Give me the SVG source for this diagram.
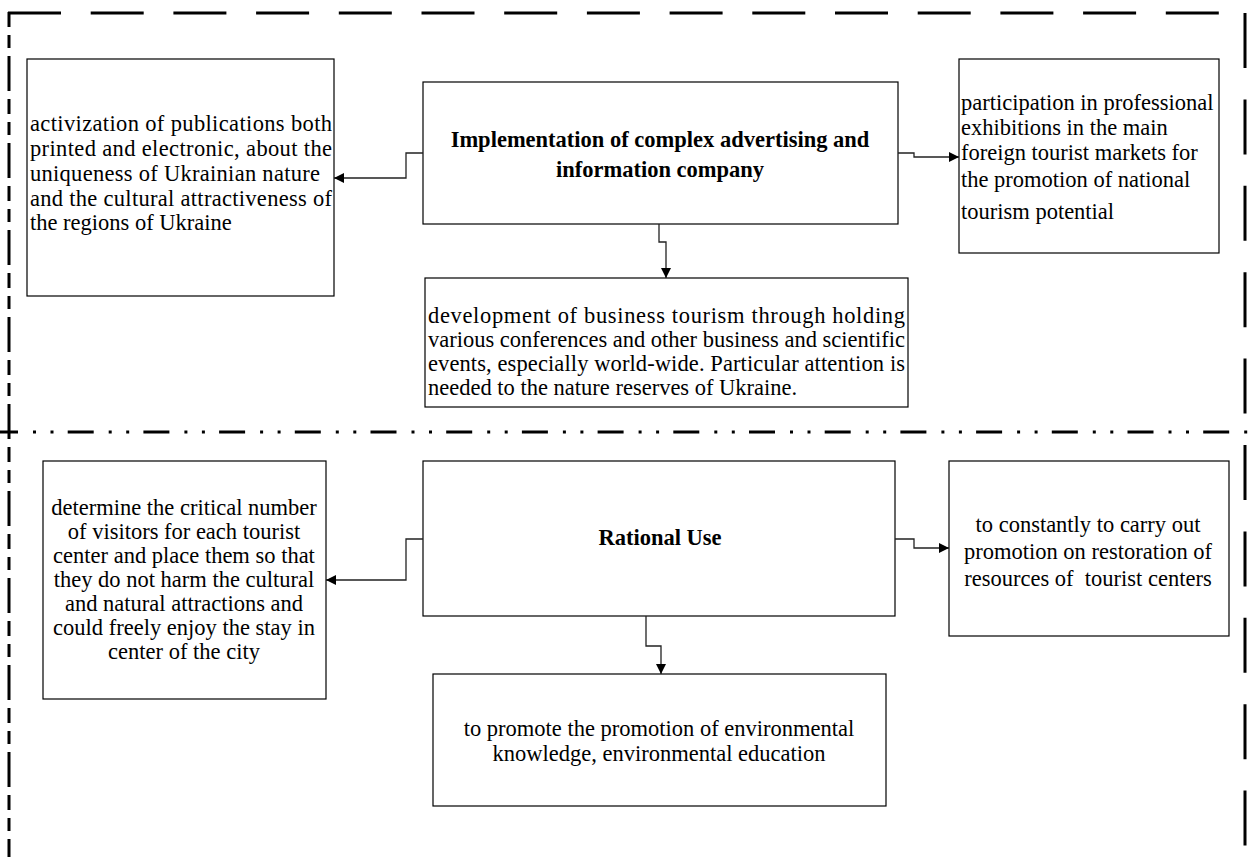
<svg xmlns="http://www.w3.org/2000/svg" width="1248" height="857" viewBox="0 0 1248 857">
<style>
.box{fill:#fff;stroke:#000;stroke-width:1.2}
.t{font-family:"Liberation Serif","Times New Roman",serif;font-size:22.5px;fill:#000}
.b{font-weight:bold}
.c{text-anchor:middle}
.con{fill:none;stroke:#222;stroke-width:1.3}
.frame{fill:none;stroke:#000;stroke-width:3}
</style>
<defs>
<marker id="ah" viewBox="0 0 10 10" refX="10" refY="5" markerWidth="10" markerHeight="10" markerUnits="userSpaceOnUse" orient="auto">
<path d="M0,0 L10,5 L0,10 Z" fill="#000"/>
</marker>
</defs>
<g id="frame">
<line class="frame" x1="8" y1="13" x2="1248" y2="13" stroke-dasharray="53 29.7"/>
<line class="frame" x1="9" y1="12" x2="9" y2="857" stroke-dasharray="15 8 13 8 35 8"/>
<line class="frame" x1="1245" y1="13" x2="1245" y2="857" stroke-dasharray="55 31.4"/>
<line class="frame" x1="-8" y1="432" x2="1248" y2="432" stroke-dasharray="26 15 3 14.5 3 14.2"/>
</g>
<g id="n1">
<rect class="box" x="27" y="59" width="307" height="237"/>
<text class="t" x="30" y="131" textLength="302" lengthAdjust="spacing">activization of publications both</text>
<text class="t" x="30" y="156" textLength="302" lengthAdjust="spacing">printed and electronic, about the</text>
<text class="t" x="30" y="181" textLength="290" lengthAdjust="spacing">uniqueness of Ukrainian nature</text>
<text class="t" x="30" y="206" textLength="302" lengthAdjust="spacing">and the cultural attractiveness of</text>
<text class="t" x="30" y="230">the regions of Ukraine</text>
</g>
<g id="n2">
<rect class="box" x="423" y="82" width="475" height="142"/>
<text class="t b c" x="660" y="147">Implementation of complex advertising and</text>
<text class="t b c" x="660" y="177">information company</text>
</g>
<g id="n3">
<rect class="box" x="959" y="59" width="260" height="194"/>
<text class="t" x="961" y="110">participation in professional</text>
<text class="t" x="961" y="135">exhibitions in the main</text>
<text class="t" x="961" y="160">foreign tourist markets for</text>
<text class="t" x="961" y="187">the promotion of national</text>
<text class="t" x="961" y="219">tourism potential</text>
</g>
<g id="n4">
<rect class="box" x="425" y="278" width="483" height="129"/>
<text class="t" x="428" y="323" textLength="477" lengthAdjust="spacing">development of business tourism through holding</text>
<text class="t" x="428" y="347" textLength="477" lengthAdjust="spacing">various conferences and other business and scientific</text>
<text class="t" x="428" y="371" textLength="477" lengthAdjust="spacing">events, especially world-wide. Particular attention is</text>
<text class="t" x="428" y="395">needed to the nature reserves of Ukraine.</text>
</g>
<g id="n5">
<rect class="box" x="43" y="461" width="283" height="238"/>
<text class="t c" x="184" y="515">determine the critical number</text>
<text class="t c" x="184" y="539">of visitors for each tourist</text>
<text class="t c" x="184" y="563">center and place them so that</text>
<text class="t c" x="184" y="587">they do not harm the cultural</text>
<text class="t c" x="184" y="611">and natural attractions and</text>
<text class="t c" x="184" y="635">could freely enjoy the stay in</text>
<text class="t c" x="184" y="659">center of the city</text>
</g>
<g id="n6">
<rect class="box" x="423" y="461" width="472" height="155"/>
<text class="t b c" x="660" y="545">Rational Use</text>
</g>
<g id="n7">
<rect class="box" x="949" y="461" width="280" height="175"/>
<text class="t c" x="1088" y="532">to constantly to carry out</text>
<text class="t c" x="1088" y="559">promotion on restoration of</text>
<text class="t c" x="1088" y="586" xml:space="preserve">resources of  tourist centers</text>
</g>
<g id="n8">
<rect class="box" x="433" y="674" width="453" height="132"/>
<text class="t c" x="659" y="736">to promote the promotion of environmental</text>
<text class="t c" x="659" y="761">knowledge, environmental education</text>
</g>
<g id="connectors">
<polyline class="con" points="423,153 406,153 406,178 334,178" marker-end="url(#ah)"/>
<polyline class="con" points="898,153 914,153 914,157 959,157" marker-end="url(#ah)"/>
<polyline class="con" points="659,224 659,242 666,242 666,278" marker-end="url(#ah)"/>
<polyline class="con" points="423,539 406,539 406,580 326,580" marker-end="url(#ah)"/>
<polyline class="con" points="895,539 914,539 914,548 949,548" marker-end="url(#ah)"/>
<polyline class="con" points="646,616 646,646 661,646 661,674" marker-end="url(#ah)"/>
</g>
</svg>
